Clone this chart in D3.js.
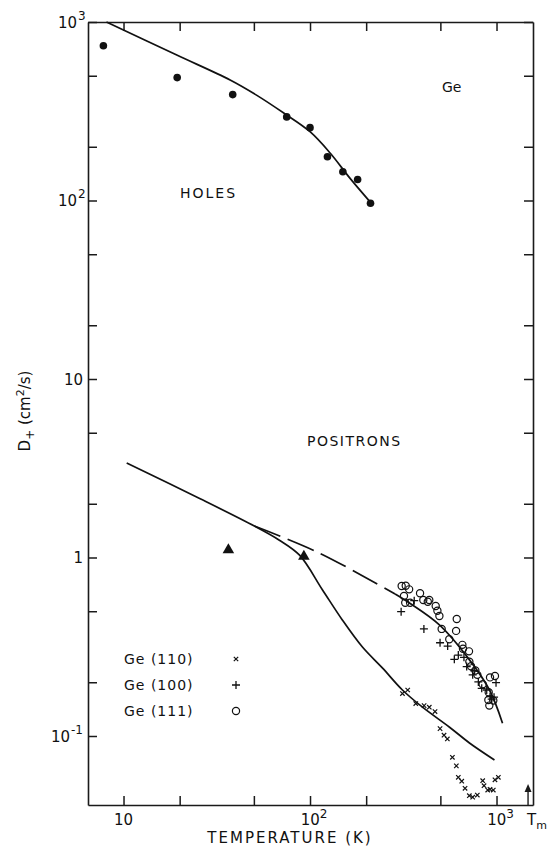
<!DOCTYPE html>
<html>
<head>
<meta charset="utf-8">
<script src="https://cdn.jsdelivr.net/npm/d3@7/dist/d3.min.js"></script>
<style>
  body { margin: 0; background: #fff; }
  svg { display: block; }
  text { font-family: "DejaVu Sans", sans-serif; fill: #111; }
</style>
</head>
<body>
<svg width="547" height="846"></svg>
<script>
// holes (filled dots) and fitted curve
var holesT = [7.8, 19.4, 38.5, 75, 100, 124, 150, 180, 211];
var holesD = [736, 488, 392, 294, 256, 176, 145, 131, 96.5];
var holesFitT = [8.1, 19.3, 37.3, 51.9, 72.3, 100, 128.5, 164, 215];
var holesFitD = [1000, 653, 473, 388, 309, 243, 184, 133, 95.5];

// positron curves
var posFitT = [10.4, 25.6, 50.3, 68.5, 87.9, 116.7, 149, 191, 245, 313, 401, 560, 716, 975];
var posFitD = [3.38, 2.14, 1.50, 1.25, 1.03, 0.658, 0.447, 0.315, 0.240, 0.181, 0.145, 0.112, 0.0914, 0.0734];
var posDashT = [50.3, 112, 286];
var posDashD = [1.50, 1.06, 0.624];
var posHighT = [286, 341, 494, 716, 917, 1077];
var posHighD = [0.624, 0.556, 0.419, 0.267, 0.181, 0.118];

// triangles
var triT = [36.5, 92.7];
var triD = [1.09, 1.0];

// Ge(111) open circles
var ge111T = [310, 326, 340, 319, 324, 344, 389, 405, 428, 436, 472, 482, 494, 612, 508, 607, 558, 656, 661, 712, 715, 730, 770, 789, 843, 908, 923, 981, 904, 915, 961];
var ge111D = [0.692, 0.695, 0.663, 0.609, 0.558, 0.558, 0.630, 0.578, 0.565, 0.578, 0.535, 0.503, 0.470, 0.452, 0.398, 0.388, 0.348, 0.324, 0.308, 0.298, 0.261, 0.246, 0.233, 0.220, 0.195, 0.176, 0.213, 0.217, 0.159, 0.148, 0.158];

// Ge(100) plus
var ge100T = [308, 362, 408, 498, 547, 594, 624, 669, 692, 745, 760, 799, 833, 886, 923, 942, 970, 994];
var ge100D = [0.497, 0.573, 0.398, 0.333, 0.319, 0.269, 0.284, 0.276, 0.245, 0.220, 0.232, 0.201, 0.185, 0.181, 0.166, 0.161, 0.165, 0.199];

// Ge(110) small crosses
var ge110T = [313, 334, 369, 409, 436, 468, 498, 523, 545, 580, 609, 624, 651, 678, 715, 745, 789, 843, 857, 897, 923, 961, 981, 1023];
var ge110D = [0.173, 0.181, 0.152, 0.148, 0.145, 0.137, 0.110, 0.101, 0.0962, 0.076, 0.068, 0.0587, 0.0558, 0.0509, 0.0463, 0.0454, 0.0467, 0.0562, 0.0527, 0.0498, 0.0503, 0.0498, 0.0568, 0.0587];

var xTicks = [10, 20, 50, 100, 200, 500, 1000];
var yTicks = [0.1, 0.2, 0.5, 1, 2, 5, 10, 20, 50, 100, 200, 500, 1000];
var xLabels = [{v: 10, b: "10", e: ""}, {v: 100, b: "10", e: "2"}, {v: 1000, b: "10", e: "3"}];
var yLabels = [{v: 1000, b: "10", e: "3"}, {v: 100, b: "10", e: "2"}, {v: 10, b: "10", e: ""}, {v: 1, b: "1", e: ""}, {v: 0.1, b: "10", e: "-1"}];
var legendNames = ["Ge (110)", "Ge (100)", "Ge (111)"];
var tmT = 1476;

var svg = d3.select('svg');
var plotL = 88, plotR = 533, plotT = 22, plotB = 805;

var x = d3.scaleLog().domain([6.45, 1569]).range([plotL, plotR]);
var y = d3.scaleLog().domain([0.04106, 1000]).range([plotB, plotT]);

function zip(a, b) {
	return a.map(function (v, i) { return [v, b[i]]; });
}

// frame
var axisColor = '#1a1a1a';
function styleAxis(g) {
	g.selectAll('path').attr('stroke', axisColor).attr('stroke-width', 1.6);
	g.selectAll('line').attr('stroke', axisColor).attr('stroke-width', 1.5);
	g.selectAll('text').remove();
}
svg.append('g').attr('transform', 'translate(0,' + plotB + ')')
	.call(d3.axisBottom(x).tickValues(xTicks).tickSize(-9).tickSizeOuter(0).tickFormat(''))
	.call(styleAxis);
svg.append('g').attr('transform', 'translate(0,' + plotT + ')')
	.call(d3.axisTop(x).tickValues(xTicks).tickSize(-9).tickSizeOuter(0).tickFormat(''))
	.call(styleAxis);
svg.append('g').attr('transform', 'translate(' + plotL + ',0)')
	.call(d3.axisLeft(y).tickValues(yTicks).tickSize(-9).tickSizeOuter(0).tickFormat(''))
	.call(styleAxis);
svg.append('g').attr('transform', 'translate(' + plotR + ',0)')
	.call(d3.axisRight(y).tickValues(yTicks).tickSize(-9).tickSizeOuter(0).tickFormat(''))
	.call(styleAxis);

// tick labels
xLabels.forEach(function (d) {
	var t = svg.append('text')
		.attr('x', x(d.v) + (d.e ? 4 : 0))
		.attr('y', 825)
		.attr('text-anchor', 'middle')
		.style('font-size', '15px');
	t.append('tspan').text(d.b);
	if (d.e) t.append('tspan').attr('dy', -7).style('font-size', '12px').text(d.e);
});
yLabels.forEach(function (d) {
	var base = d.e ? 84 - (d.e.length * 7) : 83;
	svg.append('text')
		.attr('x', base)
		.attr('y', y(d.v) + 6)
		.attr('text-anchor', 'end')
		.style('font-size', '15px')
		.text(d.b);
	if (d.e) {
		svg.append('text')
			.attr('x', base + 1)
			.attr('y', y(d.v) - 2)
			.style('font-size', '12px')
			.text(d.e);
	}
});

// Tm
var tmLab = svg.append('text').attr('x', 527).attr('y', 825).style('font-size', '15px');
tmLab.append('tspan').text('T');
tmLab.append('tspan').attr('dy', 4).style('font-size', '11px').text('m');
svg.append('line')
	.attr('x1', x(tmT)).attr('x2', x(tmT))
	.attr('y1', plotB).attr('y2', plotB - 16)
	.attr('stroke', axisColor).attr('stroke-width', 1.4);
svg.append('path')
	.attr('d', 'M' + x(tmT) + ',' + (plotB - 21) + 'l-3.5,8h7z')
	.attr('fill', axisColor);

// axis titles
svg.append('text')
	.attr('x', 290).attr('y', 843)
	.attr('text-anchor', 'middle')
	.style('font-size', '15px')
	.style('letter-spacing', '2px')
	.text('TEMPERATURE (K)');

var yt = svg.append('text')
	.attr('transform', 'translate(30,411) rotate(-90)')
	.attr('text-anchor', 'middle')
	.style('font-size', '15px');
yt.append('tspan').text('D');
yt.append('tspan').attr('dy', 4).style('font-size', '12px').text('+');
yt.append('tspan').attr('dy', -4).text(' (cm');
yt.append('tspan').attr('dy', -6).style('font-size', '11px').text('2');
yt.append('tspan').attr('dy', 6).text('/s)');

// annotations
svg.append('text').attr('x', 442).attr('y', 92).style('font-size', '14px').text('Ge');
svg.append('text').attr('x', 180).attr('y', 198).style('font-size', '14px').style('letter-spacing', '2px').text('HOLES');
svg.append('text').attr('x', 307).attr('y', 446).style('font-size', '14px').style('letter-spacing', '1.5px').text('POSITRONS');

// curves
var line = d3.line()
	.x(function (d) { return x(d[0]); })
	.y(function (d) { return y(d[1]); })
	.curve(d3.curveCatmullRom.alpha(0.5));

svg.append('path').datum(zip(holesFitT, holesFitD))
	.attr('d', line).attr('fill', 'none').attr('stroke', '#111').attr('stroke-width', 1.7);
svg.append('path').datum(zip(posFitT, posFitD))
	.attr('d', line).attr('fill', 'none').attr('stroke', '#111').attr('stroke-width', 1.7);
svg.append('path').datum(zip(posDashT, posDashD))
	.attr('d', line).attr('fill', 'none').attr('stroke', '#111').attr('stroke-width', 1.7)
	.attr('stroke-dasharray', '28,8');
svg.append('path').datum(zip(posHighT, posHighD))
	.attr('d', line).attr('fill', 'none').attr('stroke', '#111').attr('stroke-width', 1.7);

// marks
svg.selectAll('circle.hole')
	.data(zip(holesT, holesD))
	.enter().append('circle')
	.attr('class', 'hole')
	.attr('cx', function (d) { return x(d[0]); })
	.attr('cy', function (d) { return y(d[1]); })
	.attr('r', 3.8)
	.attr('fill', '#111');

svg.selectAll('path.tri')
	.data(zip(triT, triD))
	.enter().append('path')
	.attr('class', 'tri')
	.attr('d', d3.symbol().type(d3.symbolTriangle).size(58))
	.attr('transform', function (d) { return 'translate(' + x(d[0]) + ',' + (y(d[1]) - 1) + ')'; })
	.attr('fill', '#111');

function crossPath(s) {
	return 'M' + (-s) + ',' + (-s) + 'L' + s + ',' + s + 'M' + (-s) + ',' + s + 'L' + s + ',' + (-s);
}
function plusPath(s) {
	return 'M' + (-s) + ',0H' + s + 'M0,' + (-s) + 'V' + s;
}

svg.selectAll('circle.g111')
	.data(zip(ge111T, ge111D))
	.enter().append('circle')
	.attr('class', 'g111')
	.attr('cx', function (d) { return x(d[0]); })
	.attr('cy', function (d) { return y(d[1]); })
	.attr('r', 3.6)
	.attr('fill', 'none')
	.attr('stroke', '#111')
	.attr('stroke-width', 1.2);

svg.selectAll('path.g100')
	.data(zip(ge100T, ge100D))
	.enter().append('path')
	.attr('class', 'g100')
	.attr('d', plusPath(4))
	.attr('transform', function (d) { return 'translate(' + x(d[0]) + ',' + y(d[1]) + ')'; })
	.attr('stroke', '#111')
	.attr('stroke-width', 1.3);

svg.selectAll('path.g110')
	.data(zip(ge110T, ge110D))
	.enter().append('path')
	.attr('class', 'g110')
	.attr('d', crossPath(2.2))
	.attr('transform', function (d) { return 'translate(' + x(d[0]) + ',' + y(d[1]) + ')'; })
	.attr('stroke', '#111')
	.attr('stroke-width', 1.2);

// legend
var legendY = [659, 685, 711];
legendNames.forEach(function (name, i) {
	svg.append('text').attr('x', 124).attr('y', legendY[i] + 5)
		.style('font-size', '14px').style('letter-spacing', '1px').text(name);
	var cx = 236, cy = legendY[i];
	if (i === 0) {
		svg.append('path').attr('d', crossPath(2.2)).attr('transform', 'translate(' + cx + ',' + cy + ')')
			.attr('stroke', '#111').attr('stroke-width', 1.2);
	} else if (i === 1) {
		svg.append('path').attr('d', plusPath(4)).attr('transform', 'translate(' + cx + ',' + cy + ')')
			.attr('stroke', '#111').attr('stroke-width', 1.3);
	} else {
		svg.append('circle').attr('cx', cx).attr('cy', cy).attr('r', 3.6)
			.attr('fill', 'none').attr('stroke', '#111').attr('stroke-width', 1.2);
	}
});
</script>
</body>
</html>
